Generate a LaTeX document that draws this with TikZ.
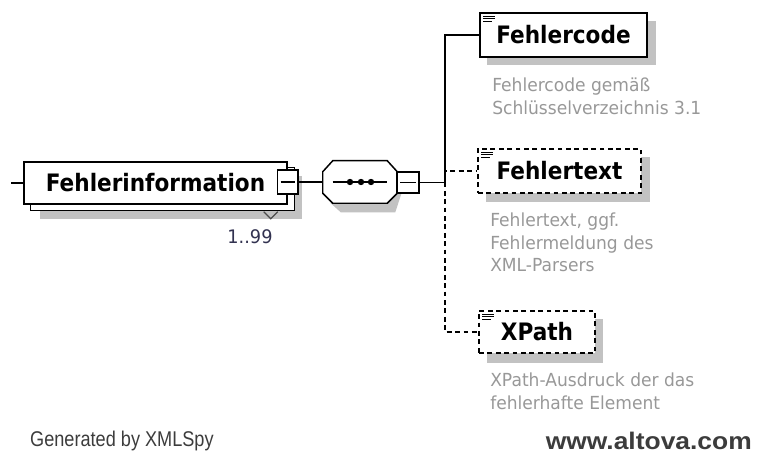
\documentclass[tikz,border=0pt]{standalone}
\usepackage{fontspec}
\setmainfont{DejaVu Sans}
\newfontfamily\tah[FakeStretch=0.9]{DejaVu Sans}
\newfontfamily\annf[FakeStretch=0.95]{DejaVu Sans}
\newfontfamily\arialf{Liberation Sans}
\usetikzlibrary{calc}
\definecolor{shadowgray}{RGB}{194,194,194}
\definecolor{anngray}{RGB}{152,152,152}
\definecolor{multcol}{RGB}{50,50,80}
\definecolor{footcol}{RGB}{60,60,60}
\tikzset{
  elem/.style={draw=black, fill=white, line width=1.1pt, inner sep=0pt,
    font=\tah\bfseries\fontsize{18}{20}\selectfont},
  optelem/.style={elem, dash pattern=on 3.6pt off 2.7pt},
  shadowfill/.style={fill=shadowgray, draw=none},
  conn/.style={line width=1.1pt},
  optconn/.style={conn, dash pattern=on 3.6pt off 2.7pt},
  minusbox/.style={draw=black, fill=white, line width=1.1pt, inner sep=0pt},
  ann/.style={anchor=north west, align=left, inner sep=0pt, text=anngray,
    font=\annf\fontsize{13.5}{16.8}\selectfont},
  footer/.style={inner sep=0pt, text=footcol, transform shape}
}
\begin{document}
\begin{tikzpicture}[x=0.75pt, y=-0.75pt]
\useasboundingbox (0,0) rectangle (758,456);

% ---------- Fehlerinformation ----------
\node[minimum width=197.25pt, minimum height=31.5pt, inner sep=0pt] (fipos) at (155.5,183) {};
\fill[shadowfill] ($(fipos.north west)+(16,14)$) rectangle ($(fipos.south east)+(15,15)$);
\draw[fill=white, line width=1.1pt] ($(fipos.north west)+(7,6)$) rectangle ($(fipos.south east)+(7,6)$);
\node[elem, minimum width=197.25pt, minimum height=31.5pt] (fi) at (155.5,183) {Fehlerinformation};
\node[minusbox, minimum width=15.5pt, minimum height=18pt] (fimin) at ($(fi.east)+(0,-1)$) {};
\draw[line width=1.1pt] ($(fimin.west)+(4,0)$) -- ($(fimin.east)+(-4,0)$);
\draw[line width=0.9pt, black!70] ($(fi.south east)+(-24,7)$) -- ($(fi.south east)+(-17,14)$) -- ($(fi.south east)+(-10,7)$);
\node[inner sep=0pt, text=multcol, font=\annf\fontsize{14}{15}\selectfont] (mult) at (250,237) {1..99};
\coordinate (lead) at (11,183);
\draw[conn] (lead) -- (fi.west);

% ---------- Sequence compositor ----------
\node[minimum width=55.5pt, minimum height=31.5pt, inner sep=0pt] (seq) at (360,182) {};
\fill[shadowfill] ($(seq.north west)+(18,8)$) -- ($(seq.north east)+(-2,8)$) -- ($(seq.east)+(8,0)$) -- ($(seq.south east)+(-2,9)$) -- ($(seq.south west)+(18,9)$) -- ($(seq.south west)+(8,0)$) -- cycle;
\draw[fill=white, line width=1.1pt]
  ($(seq.north west)+(10,0)$) -- ($(seq.north east)+(-10,0)$) -- ($(seq.north east)+(0,11)$)
  -- ($(seq.south east)+(0,-10)$) -- ($(seq.south east)+(-10,0)$) -- ($(seq.south west)+(10,0)$)
  -- ($(seq.south west)+(0,-10)$) -- ($(seq.north west)+(0,11)$) -- cycle;
\draw[line width=1.1pt] ($(seq.west)+(10,0)$) -- ($(seq.east)+(-10,0)$);
\fill ($(seq.center)+(-10,0)$) circle (3.2);
\fill ($(seq.center)+(1,0)$) circle (3.2);
\fill ($(seq.center)+(11,0)$) circle (3.2);
\node[minusbox, minimum width=16.5pt, minimum height=15.75pt] (seqmin) at (408,182.5) {};
\draw[line width=1.1pt] ($(seqmin.west)+(4,0)$) -- ($(seqmin.east)+(-4,0)$);
\draw[conn] (fimin.east) -- (seq.west);
\coordinate (jn) at (445,182.5);
\draw[conn] (seqmin.east) -- (jn);

% ---------- Fehlercode ----------
\fill[shadowfill] (487,21) rectangle (656,65);
\node[elem, minimum width=125.25pt, minimum height=33pt] (fc) at (563.5,35) {Fehlercode};
\foreach \dy/\len in {4/12,6.5/12,9/9} {
  \draw[line width=0.9pt] ($(fc.north west)+(4,\dy)$) -- ++(\len,0);
}
\node[ann] (fcann) at (492,78) {Fehlercode gemäß\\Schlüsselverzeichnis 3.1};

% ---------- Fehlertext ----------
\fill[shadowfill] (486,157) rectangle (650,202);
\node[optelem, minimum width=122.25pt, minimum height=33pt] (ft) at (559.5,171) {Fehlertext};
\foreach \dy/\len in {4/12,6.5/12,9/9} {
  \draw[line width=0.9pt] ($(ft.north west)+(4,\dy)$) -- ++(\len,0);
}
\node[ann] (ftann) at (490,213) {Fehlertext, ggf.\\Fehlermeldung des\\XML-Parsers};

% ---------- XPath ----------
\fill[shadowfill] (487,319) rectangle (603,363);
\node[optelem, minimum width=87pt, minimum height=31.5pt] (xp) at (537,332) {XPath};
\foreach \dy/\len in {4/12,6.5/12,9/9} {
  \draw[line width=0.9pt] ($(xp.north west)+(4,\dy)$) -- ++(\len,0);
}
\node[ann] (xpann) at (490,373) {XPath-Ausdruck der das\\fehlerhafte Element};

% ---------- connectors to children ----------
\draw[optconn] (jn) |- (ft.west);
\draw[optconn] (jn) |- (xp.west);
\draw[conn] (jn) |- (fc.west);

% ---------- footer ----------
\node[footer, anchor=west, font=\arialf\fontsize{16}{18}\selectfont, xscale=0.85] (gen) at (30,441) {Generated by XMLSpy};
\node[footer, anchor=east, font=\arialf\bfseries\fontsize{18}{20}\selectfont, xscale=1.1] (alt) at (752,441) {www.altova.com};
\end{tikzpicture}
\end{document}
